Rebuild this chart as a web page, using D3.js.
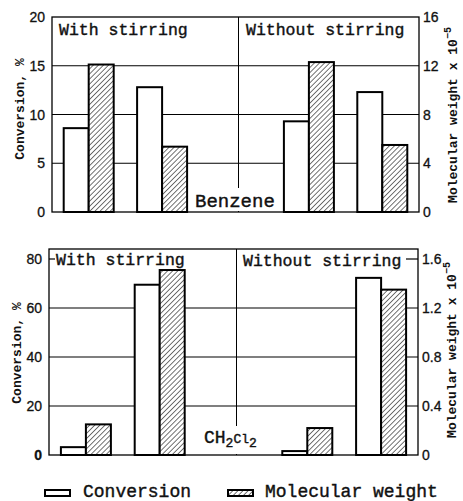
<!DOCTYPE html>
<meta charset="utf-8">
<style>
body { margin: 0; background: #fff; }
.frame { fill: none; stroke: #000; stroke-width: 1.3px; }
.grid { stroke: #000; stroke-width: 1.2px; }
.bar { stroke: #000; stroke-width: 2px; }
.tick { font: 14px "Liberation Sans", Arial, sans-serif; fill: #111; stroke: #111; stroke-width: 0.3px; }
.ttl { font: 16.5px "Liberation Mono", monospace; fill: #111; stroke: #111; stroke-width: 0.4px; }
.axlab { font: bold 13px "Liberation Mono", monospace; fill: #111; }
.leg { font: 18px "Liberation Mono", monospace; fill: #111; stroke: #111; stroke-width: 0.4px; }
</style>
<body>
<script src="https://d3js.org/d3.v7.min.js"></script>
<script>
// x slots: two pairs per condition, an empty slot between
var slots = ["ws1", "ws2", "gap", "wos1", "wos2"];
var pairs = ["ws1", "ws2", "wos1", "wos2"];
var series = ["Conversion", "Molecular weight"];

// benzene (top panel)
var benzConv = [8.6, 12.8, 9.3, 12.3];
var benzMw = [12.1, 5.36, 12.3, 5.5];        // x 10^-5
var benzLeftTicks = [0, 5, 10, 15, 20];
var benzRightTicks = [0, 4, 8, 12, 16];

// CH2Cl2 (bottom panel)
var dcmConv = [3.2, 69.5, 1.6, 72.3];
var dcmMw = [0.25, 1.51, 0.22, 1.35];        // x 10^-5
var dcmLeftTicks = [0, 20, 40, 60, 80];
var dcmRightTicks = [0, 0.4, 0.8, 1.2, 1.6];

var svg = d3.select("body").append("svg")
    .attr("width", 463)
    .attr("height", 501);

// hatch pattern for molecular weight bars
var pat = svg.append("defs").append("pattern")
    .attr("id", "hatch")
    .attr("patternUnits", "userSpaceOnUse")
    .attr("width", 3.6).attr("height", 3.6)
    .attr("patternTransform", "rotate(45)");
pat.append("rect").attr("width", 3.6).attr("height", 3.6).attr("fill", "#fff");
pat.append("line")
    .attr("x1", 0).attr("y1", 0).attr("x2", 0).attr("y2", 3.6)
    .attr("stroke", "#000").attr("stroke-width", 1.1);

function panel(p) {
  var g = svg.append("g");

  var x = d3.scalePoint().domain(slots).range([p.left, p.right]).padding(0.5);
  var sub = d3.scaleBand().domain(series).range([-25, 25]);
  var yL = d3.scaleLinear().domain([0, p.lmax]).range([p.bottom, p.ytop]);
  var yR = d3.scaleLinear().domain([0, p.rmax]).range([p.bottom, p.ytop]);

  // gridlines
  g.selectAll(".grid").data(p.grid).enter().append("line")
      .attr("class", "grid")
      .attr("x1", p.left).attr("x2", p.right)
      .attr("y1", function(d) { return yL(d); })
      .attr("y2", function(d) { return yL(d); });

  // short ticks at top value when it is inside the frame
  if (p.topTick) {
    g.append("line").attr("class", "grid")
        .attr("x1", p.left).attr("x2", p.left + 6)
        .attr("y1", yL(p.lmax)).attr("y2", yL(p.lmax));
    g.append("line").attr("class", "grid")
        .attr("x1", p.right - 12).attr("x2", p.right)
        .attr("y1", yL(p.lmax)).attr("y2", yL(p.lmax));
  }

  // divider between conditions
  g.append("line")
      .attr("stroke", "#000").attr("stroke-width", 1)
      .attr("x1", x("gap") + 3).attr("x2", x("gap") + 3)
      .attr("y1", p.boxTop).attr("y2", p.bottom);

  // solvent label with white backing
  g.append("rect")
      .attr("x", p.solvX - 6).attr("y", p.solvBoxTop)
      .attr("width", p.solvW).attr("height", p.bottom - p.solvBoxTop - 1)
      .attr("fill", "#fff");
  var sl = g.append("text").attr("class", "ttl")
      .attr("x", p.solvX).attr("y", p.solvY)
      .style("font-size", p.solvSize + "px");
  p.solvParts.forEach(function(s) {
    var t = sl.append("tspan").text(s[0]);
    if (s[1]) t.attr("dy", s[1]).style("font-size", "13px");
  });

  // condition labels
  g.append("text").attr("class", "ttl")
      .attr("x", p.wsX).attr("y", p.wsY).text("With stirring");
  g.append("text").attr("class", "ttl")
      .attr("x", p.wosX).attr("y", p.wosY).text("Without stirring");

  // bars
  var rows = pairs.map(function(k, i) {
    return { key: k, conv: p.conv[i], mw: p.mw[i] };
  });
  g.selectAll(".conv").data(rows).enter().append("rect")
      .attr("class", "bar conv")
      .attr("fill", "#fff")
      .attr("x", function(d) { return x(d.key) + sub("Conversion"); })
      .attr("width", sub.bandwidth())
      .attr("y", function(d) { return yL(d.conv); })
      .attr("height", function(d) { return p.bottom - yL(d.conv); });
  g.selectAll(".mw").data(rows).enter().append("rect")
      .attr("class", "bar mw")
      .attr("fill", "url(#hatch)")
      .attr("x", function(d) { return x(d.key) + sub("Molecular weight"); })
      .attr("width", sub.bandwidth())
      .attr("y", function(d) { return yR(d.mw); })
      .attr("height", function(d) { return p.bottom - yR(d.mw); });

  // frame
  g.append("rect").attr("class", "frame")
      .attr("x", p.left).attr("y", p.boxTop)
      .attr("width", p.right - p.left).attr("height", p.bottom - p.boxTop);

  // tick labels
  g.selectAll(".lt").data(p.lticks).enter().append("text")
      .attr("class", "tick")
      .attr("text-anchor", "end")
      .attr("x", p.left - 7)
      .attr("y", function(d) { return yL(d) + 5; })
      .style("font-weight", function(d) { return d === 0 && p.boldZero ? "bold" : "normal"; })
      .text(function(d) { return d; });
  g.selectAll(".rt").data(p.rticks).enter().append("text")
      .attr("class", "tick")
      .attr("x", p.right + 4)
      .attr("y", function(d) { return yR(d) + 5; })
      .text(function(d) { return p.rfmt(d); });

  // axis titles
  g.append("text").attr("class", "axlab")
      .attr("text-anchor", "middle")
      .attr("transform", "translate(" + p.lTitleX + "," + p.lTitleY + ") rotate(-90)")
      .text("Conversion, %");
  var rt = g.append("text").attr("class", "axlab")
      .attr("text-anchor", "middle")
      .attr("transform", "translate(" + p.rTitleX + "," + p.rTitleY + ") rotate(-90)");
  rt.append("tspan").text("Molecular weight x 10");
  rt.append("tspan").attr("dy", -6).style("font-size", "10px").text("\u22125");
}

panel({
  left: 52, right: 419, bottom: 212, ytop: 17, boxTop: 17,
  lmax: 20, rmax: 16,
  grid: [5, 10, 15], topTick: false, boldZero: false,
  conv: benzConv, mw: benzMw,
  lticks: benzLeftTicks, rticks: benzRightTicks,
  rfmt: function(d) { return d; },
  wsX: 59, wsY: 35, wosX: 246, wosY: 35,
  solvX: 195, solvY: 207, solvSize: 19, solvW: 96, solvBoxTop: 188,
  solvParts: [["Benzene"]],
  lTitleX: 24, lTitleY: 109, rTitleX: 457, rTitleY: 115
});

panel({
  left: 49, right: 418, bottom: 455, ytop: 259, boxTop: 249,
  lmax: 80, rmax: 1.6,
  grid: [20, 40, 60], topTick: true, boldZero: true,
  conv: dcmConv, mw: dcmMw,
  lticks: dcmLeftTicks, rticks: dcmRightTicks,
  rfmt: function(d) { return d === 0 ? "0" : d.toFixed(1); },
  wsX: 56, wsY: 265, wosX: 243, wosY: 266,
  solvX: 204, solvY: 443, solvSize: 18, solvW: 72, solvBoxTop: 426,
  solvParts: [["CH"], ["2", 4], ["Cl", -4], ["2", 4]],
  lTitleX: 21, lTitleY: 353, rTitleX: 456, rTitleY: 350
});

// legend
var legend = svg.append("g");
legend.append("rect").attr("class", "bar")
    .attr("x", 45).attr("y", 490).attr("width", 25).attr("height", 6)
    .attr("fill", "#fff");
legend.append("text").attr("class", "leg")
    .attr("x", 83).attr("y", 497).text(series[0]);
legend.append("rect").attr("class", "bar")
    .attr("x", 228).attr("y", 490).attr("width", 25).attr("height", 6)
    .attr("fill", "url(#hatch)");
legend.append("text").attr("class", "leg")
    .attr("x", 265).attr("y", 497).text(series[1]);
</script>
</body>
